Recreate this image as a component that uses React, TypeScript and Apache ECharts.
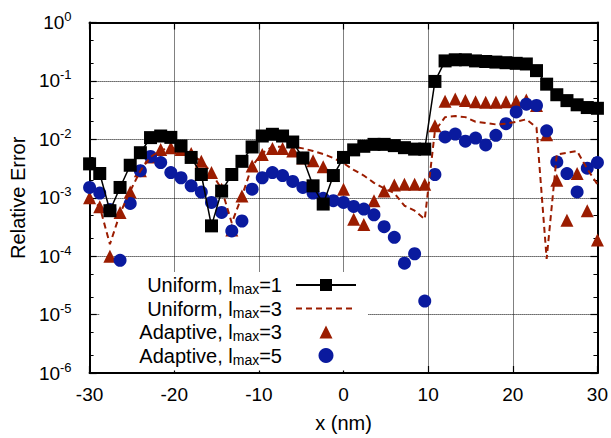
import React, { useEffect, useRef } from 'react';
import * as echarts from 'echarts';

// x positions (nm)
const xNm = [
  -30, -28.8, -27.6, -26.4, -25.2, -24, -22.8, -21.6, -20.4, -19.2,
  -18, -16.8, -15.6, -14.4, -13.2, -12, -10.8, -9.6, -8.4, -7.2,
  -6, -4.8, -3.6, -2.4, -1.2, 0, 1.2, 2.4, 3.6, 4.8,
  6, 7.2, 8.4, 9.6, 10.8, 12, 13.2, 14.4, 15.6, 16.8,
  18, 19.2, 20.4, 21.6, 22.8, 24, 25.2, 26.4, 27.6, 28.8, 30,
];

// Uniform, l_max = 1 (black squares + solid line)
const uniformL1 = [
  3.8e-3, 2.6e-3, 6.0e-4, 1.5e-3, 3.6e-3, 5.9e-3, 1.07e-2, 1.14e-2, 1.08e-2, 7.7e-3,
  4.9e-3, 2.5e-3, 3.3e-4, 1.3e-3, 2.5e-3, 4.2e-3, 7.4e-3, 1.14e-2, 1.22e-2, 1.14e-2,
  9.0e-3, 4.8e-3, 1.6e-3, 7.8e-4, 2.4e-3, 4.9e-3, 6.6e-3, 7.6e-3, 8.2e-3, 8.2e-3,
  7.8e-3, 7.2e-3, 6.8e-3, 6.8e-3, 9.8e-2, 0.22, 0.23, 0.23, 0.22, 0.215,
  0.21, 0.205, 0.2, 0.195, 0.15, 0.088, 0.058, 0.046, 0.039, 0.035, 0.034,
];

// Uniform, l_max = 3 (dashed red line)
const uniformL3 = [
  1.0e-3, 7.0e-4, 1.6e-4, 5.4e-4, 1.3e-3, 2.9e-3, 5.0e-3, 6.5e-3, 7.2e-3, 6.5e-3,
  5.5e-3, 4.2e-3, 2.7e-3, 1.4e-3, 3.7e-4, 1.07e-3, 3.5e-3, 5.8e-3, 7.5e-3, 7.5e-3,
  7.5e-3, 7.0e-3, 6.3e-3, 5.6e-3, 4.8e-3, 3.9e-3, 3.0e-3, 2.4e-3, 1.8e-3, 1.45e-3,
  1.2e-3, 7.3e-4, 6.0e-4, 4.3e-4, 1.4e-2, 2.4e-2, 2.5e-2, 2.4e-2, 2.0e-2, 1.9e-2,
  1.8e-2, 1.85e-2, 2.0e-2, 2.2e-2, 1.6e-2, 9.0e-5, 5.5e-3, 5.9e-3, 6.3e-3, 3.1e-3, 1.7e-3,
];

// Adaptive, l_max = 3 (red triangles)
const adaptiveL3 = [
  1.0e-3, 7.0e-4, 1.0e-4, 5.6e-4, 1.25e-3, 2.9e-3, 5.0e-3, 6.7e-3, 7.2e-3, 6.7e-3,
  5.7e-3, 4.2e-3, 2.7e-3, 1.4e-3, 2.8e-4, 1.07e-3, 3.5e-3, 5.5e-3, 7.0e-3, 7.0e-3,
  6.3e-3, 4.8e-3, 4.3e-3, 3.4e-3, 2.4e-3, 1.4e-3, 4.3e-4, 3.5e-4, 8.9e-4, 1.3e-3,
  1.65e-3, 1.7e-3, 1.7e-3, 1.7e-3, 1.7e-2, 4.5e-2, 4.9e-2, 4.6e-2, 4.4e-2, 4.3e-2,
  4.3e-2, 4.4e-2, 4.5e-2, 4.7e-2, 3.8e-2, 1.2e-2, 2.0e-3, 4.1e-4, 2.6e-3, 6.0e-4, 1.9e-4,
];

// Adaptive, l_max = 5 (blue circles)
const adaptiveL5 = [
  1.5e-3, 1.2e-3, 6.3e-4, 8.5e-5, 8.0e-4, 2.9e-3, 5.1e-3, 4.0e-3, 2.7e-3, 2.2e-3,
  1.6e-3, 1.25e-3, 8.3e-4, 5.6e-4, 2.7e-4, 4.0e-4, 1.4e-3, 2.2e-3, 2.7e-3, 2.4e-3,
  1.9e-3, 1.5e-3, 1.2e-3, 9.8e-4, 8.9e-4, 8.3e-4, 7.1e-4, 6.4e-4, 5.1e-4, 3.2e-4,
  2.1e-4, 7.6e-5, 1.1e-4, 1.7e-5, 2.5e-3, 1.1e-2, 1.23e-2, 9.3e-3, 1.05e-2, 8.0e-3,
  1.17e-2, 1.85e-2, 2.95e-2, 4.0e-2, 3.8e-2, 1.4e-2, 4.1e-3, 2.6e-3, 1.26e-3, 3.2e-3, 4.0e-3,
];

const yMinorTicks = [
  2e-6, 5e-6, 2e-5, 5e-5, 2e-4, 5e-4, 2e-3, 5e-3, 2e-2, 5e-2, 2e-1, 5e-1,
];

const seriesNames = ['Uniform, lmax=1', 'Uniform, lmax=3', 'Adaptive, lmax=3', 'Adaptive, lmax=5'];
const legendParts = [
  ['Uniform, l', 'max', '=1'],
  ['Uniform, l', 'max', '=3'],
  ['Adaptive, l', 'max', '=3'],
  ['Adaptive, l', 'max', '=5'],
];

const RED = '#9b1c00';
const BLUE = '#0a1a9e';
const FONT = '"Liberation Sans", Arial, Helvetica, sans-serif';
// triangle legend icon: invisible corner moves keep the 60x15 box so the triangle is not stretched
const TRIANGLE_ICON = 'path://M0,0M60,15M23.5,14L30,1L36.5,14Z';

const pairs = (ys: number[]) => xNm.map((x, i) => [x, ys[i]]);

export default function App() {
  const ref = useRef<HTMLDivElement>(null);
  useEffect(() => {
    const chart = echarts.init(ref.current!, null, { renderer: 'svg' });
    const frameLine = () => ({ show: true, onZero: false, lineStyle: { color: '#000', width: 2 } });
    const noLine = () => ({ show: false, onZero: false });
    const majorTick = () => ({ show: true, inside: true, length: 7, lineStyle: { color: '#000', width: 1.2 } });
    const minorTick = () => ({ show: true, inside: true, length: 4, customValues: yMinorTicks.slice(), lineStyle: { color: '#000', width: 1 } });
    const dotted = () => ({ show: true, lineStyle: { color: '#000', width: 1, type: 'dotted' } });
    const option: any = {
      animation: false,
      textStyle: { fontFamily: FONT },
      // plot box 510 x 354 px: 85 px per 10 nm, 59 px per decade (grid lines land on half pixels)
      grid: { left: 87.5, right: 13.5, top: 22.5, bottom: 61.5, containLabel: false },
      xAxis: [
        {
          type: 'value', min: -30, max: 30, interval: 10, position: 'bottom',
          axisLine: frameLine(), axisTick: majorTick(),
          axisLabel: { fontSize: 19, color: '#000', margin: 12, fontFamily: FONT },
          splitLine: dotted(),
          name: 'x (nm)', nameLocation: 'middle', nameGap: 40,
          nameTextStyle: { fontSize: 20, color: '#000', fontFamily: FONT },
        },
        {
          type: 'value', min: -30, max: 30, interval: 10, position: 'top',
          axisLine: frameLine(), axisTick: majorTick(), axisLabel: { show: false }, splitLine: { show: false },
        },
      ],
      yAxis: [
        {
          type: 'log', logBase: 10, min: 1e-6, max: 1, position: 'left',
          axisLine: frameLine(), axisTick: majorTick(),
          axisLabel: {
            margin: 18, color: '#000',
            formatter: (v: number) => `{b|10}{s|${Math.round(Math.log10(v))}}`,
            rich: {
              b: { fontSize: 19, lineHeight: 26, color: '#000', fontFamily: FONT },
              s: { fontSize: 13, lineHeight: 14, padding: [0, 0, 12, 0], color: '#000', fontFamily: FONT },
            },
          },
          splitLine: dotted(),
          name: 'Relative Error', nameLocation: 'middle', nameGap: 56,
          nameTextStyle: { fontSize: 20, color: '#000', fontFamily: FONT },
        },
        {
          type: 'log', logBase: 10, min: 1e-6, max: 1, position: 'right',
          axisLine: frameLine(), axisTick: majorTick(),
          axisLabel: { show: false }, splitLine: { show: false },
        },
        {
          type: 'log', logBase: 10, min: 1e-6, max: 1, position: 'left',
          axisLine: noLine(), axisTick: minorTick(),
          axisLabel: { show: false }, splitLine: { show: false },
        },
        {
          type: 'log', logBase: 10, min: 1e-6, max: 1, position: 'right',
          axisLine: noLine(), axisTick: minorTick(),
          axisLabel: { show: false }, splitLine: { show: false },
        },
      ],
      legend: {
        orient: 'vertical', align: 'right', selectedMode: false,
        right: 243, top: 272, padding: [2, 11, 4, 40],
        backgroundColor: '#fff',
        itemWidth: 60, itemHeight: 15, itemGap: 1.5,
        data: [
          { name: seriesNames[0] },
          { name: seriesNames[1], itemStyle: { opacity: 0 } },
          { name: seriesNames[2], icon: TRIANGLE_ICON },
          { name: seriesNames[3] },
        ],
        formatter: (name: string) => {
          const p = legendParts[seriesNames.indexOf(name)];
          return `{n|${p[0]}}{s|${p[1]}}{n|${p[2]}}`;
        },
        textStyle: {
          color: '#000', fontFamily: FONT, padding: [0, 9, 0, 0],
          rich: {
            n: { fontSize: 20, lineHeight: 22, color: '#000', fontFamily: FONT },
            s: { fontSize: 14, lineHeight: 14, padding: [8, 0, 0, 0], color: '#000', fontFamily: FONT },
          },
        },
      },
      series: [
        {
          type: 'line', name: seriesNames[0], data: pairs(uniformL1),
          symbol: 'rect', symbolSize: 13, clip: false,
          itemStyle: { color: '#000', opacity: 1 }, lineStyle: { color: '#000', width: 1.5 },
        },
        {
          type: 'line', name: seriesNames[1], data: pairs(uniformL3),
          symbol: 'none', clip: false,
          itemStyle: { color: RED }, lineStyle: { color: RED, width: 2, type: [6, 4] },
        },
        {
          type: 'scatter', name: seriesNames[2], data: pairs(adaptiveL3),
          symbol: 'triangle', symbolSize: 13, clip: false,
          itemStyle: { color: RED, opacity: 1 },
        },
        {
          type: 'scatter', name: seriesNames[3], data: pairs(adaptiveL5),
          symbol: 'circle', symbolSize: 13, clip: false,
          itemStyle: { color: BLUE, opacity: 1 },
        },
      ],
    };
    chart.setOption(option);
    return () => chart.dispose();
  }, []);
  return (
    <div
      ref={ref}
      style={{ position: 'fixed', left: 0, top: 0, width: 611, height: 438, background: '#fff' }}
    />
  );
}
